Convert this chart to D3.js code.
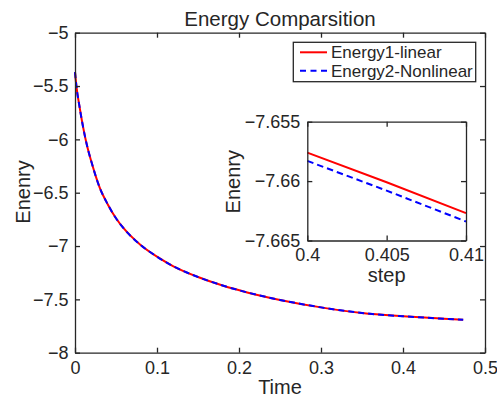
<!DOCTYPE html>
<html>
<head>
<meta charset="utf-8">
<script src="https://cdn.jsdelivr.net/npm/d3@7"></script>
<style>
  html, body { margin: 0; padding: 0; background: #fff; }
  svg { display: block; font-family: "Liberation Sans", Arial, Helvetica, sans-serif; }
  .axis path, .axis line { stroke: #262626; stroke-width: 1.3; }
  .axis text { fill: #262626; font-size: 18px; }
  .lbl { fill: #262626; font-size: 20px; }
</style>
</head>
<body>
<svg id="chart" width="497" height="399"></svg>
<script>
// main curve
const timeValues = [0, 0.002, 0.005, 0.01, 0.015, 0.02, 0.03, 0.04, 0.05, 0.06, 0.08, 0.1,
  0.12, 0.15, 0.18, 0.21, 0.25, 0.3, 0.35, 0.4, 0.45, 0.4734];
const energy1 = [-5.37, -5.52, -5.67, -5.89, -6.07, -6.21, -6.45, -6.61, -6.74, -6.84, -6.99, -7.10,
  -7.19, -7.29, -7.37, -7.435, -7.505, -7.575, -7.627, -7.6576, -7.681, -7.691];
const energy2 = [-5.37, -5.52, -5.67, -5.89, -6.07, -6.21, -6.45, -6.61, -6.74, -6.84, -6.99, -7.10,
  -7.19, -7.29, -7.37, -7.435, -7.505, -7.575, -7.6275, -7.6583, -7.6815, -7.6915];

// zoomed inset
const stepValues = [0.4, 0.405, 0.41];
const insetEnergy1 = [-7.6576, -7.6601, -7.6627];
const insetEnergy2 = [-7.6583, -7.6608, -7.6634];

const xTicks = [0, 0.1, 0.2, 0.3, 0.4, 0.5];
const yTicks = [-8, -7.5, -7, -6.5, -6, -5.5, -5];
const stepTicks = [0.4, 0.405, 0.41];
const insetYTicks = [-7.665, -7.66, -7.655];

const seriesNames = ['Energy1-linear', 'Energy2-Nonlinear'];
const seriesColors = ['#ff0000', '#0000ff'];

const svg = d3.select('#chart');

function drawBox(g, x, y, xt, yt, xPad, yPad) {
  const [x0, x1] = x.range();
  const [y0, y1] = y.range();
  g.append('g').attr('class', 'axis').attr('transform', `translate(0,${y0})`)
    .call(d3.axisBottom(x).tickValues(xt).tickSize(-5).tickPadding(xPad).tickSizeOuter(0).tickFormat(d3.format('')));
  g.append('g').attr('class', 'axis').attr('transform', `translate(${x0},0)`)
    .call(d3.axisLeft(y).tickValues(yt).tickSize(-5).tickPadding(yPad).tickSizeOuter(0).tickFormat(d3.format('')));
  g.append('g').attr('class', 'axis').attr('transform', `translate(0,${y1})`)
    .call(d3.axisTop(x).tickValues(xt).tickSize(-5).tickSizeOuter(0).tickFormat(''));
  g.append('g').attr('class', 'axis').attr('transform', `translate(${x1},0)`)
    .call(d3.axisRight(y).tickValues(yt).tickSize(-5).tickSizeOuter(0).tickFormat(''));
}

// main axes
const x = d3.scaleLinear().domain([0, 0.5]).range([75, 485]);
const y = d3.scaleLinear().domain([-8, -5]).range([352.7, 32.7]);

const main = svg.append('g');
const line = d3.line().curve(d3.curveMonotoneX);

main.append('path')
  .attr('d', line(timeValues.map((t, i) => [x(t), y(energy1[i])])))
  .attr('fill', 'none').attr('stroke', seriesColors[0]).attr('stroke-width', 2);
main.append('path')
  .attr('d', line(timeValues.map((t, i) => [x(t), y(energy2[i])])))
  .attr('fill', 'none').attr('stroke', seriesColors[1]).attr('stroke-width', 2)
  .attr('stroke-dasharray', '6,4');

drawBox(main, x, y, xTicks, yTicks, 9, 6.5);

main.append('text').attr('class', 'lbl').attr('x', 280).attr('y', 25.7)
  .attr('text-anchor', 'middle').style('font-size', '20.5px').text('Energy Comparsition');
main.append('text').attr('class', 'lbl').attr('x', 280).attr('y', 394)
  .attr('text-anchor', 'middle').text('Time');
main.append('text').attr('class', 'lbl')
  .attr('transform', 'translate(29.5,192) rotate(-90)')
  .attr('text-anchor', 'middle').text('Enenry');

// legend
const legend = svg.append('g');
legend.append('rect').attr('x', 293.3).attr('y', 42.3).attr('width', 182.4).attr('height', 39.4)
  .attr('fill', '#fff').attr('stroke', '#262626').attr('stroke-width', 1.3);
seriesNames.forEach((name, i) => {
  const ly = 52.3 + i * 18.4;
  legend.append('line').attr('x1', 300).attr('x2', 327).attr('y1', ly).attr('y2', ly)
    .attr('stroke', seriesColors[i]).attr('stroke-width', 2)
    .attr('stroke-dasharray', i === 1 ? '6,4.5' : null);
  legend.append('text').attr('class', 'lbl').style('font-size', '17px')
    .attr('x', 331).attr('y', ly + 6).text(name);
});

// inset
const ix = d3.scaleLinear().domain([0.4, 0.41]).range([307.3, 466]);
const iy = d3.scaleLinear().domain([-7.665, -7.655]).range([240.5, 121.7]);
const inset = svg.append('g');
inset.append('rect').attr('x', 307.3).attr('y', 121.7).attr('width', 158.7).attr('height', 118.8)
  .attr('fill', '#fff');
const iline = d3.line();
inset.append('path')
  .attr('d', iline(stepValues.map((t, i) => [ix(t), iy(insetEnergy1[i])])))
  .attr('fill', 'none').attr('stroke', seriesColors[0]).attr('stroke-width', 2);
inset.append('path')
  .attr('d', iline(stepValues.map((t, i) => [ix(t), iy(insetEnergy2[i])])))
  .attr('fill', 'none').attr('stroke', seriesColors[1]).attr('stroke-width', 2)
  .attr('stroke-dasharray', '6.5,4');
drawBox(inset, ix, iy, stepTicks, insetYTicks, 8, 7);
inset.append('text').attr('class', 'lbl').attr('x', 386.7).attr('y', 282)
  .attr('text-anchor', 'middle').text('step');
inset.append('text').attr('class', 'lbl')
  .attr('transform', 'translate(240,181.7) rotate(-90)')
  .attr('text-anchor', 'middle').text('Enenry');
</script>
</body>
</html>
